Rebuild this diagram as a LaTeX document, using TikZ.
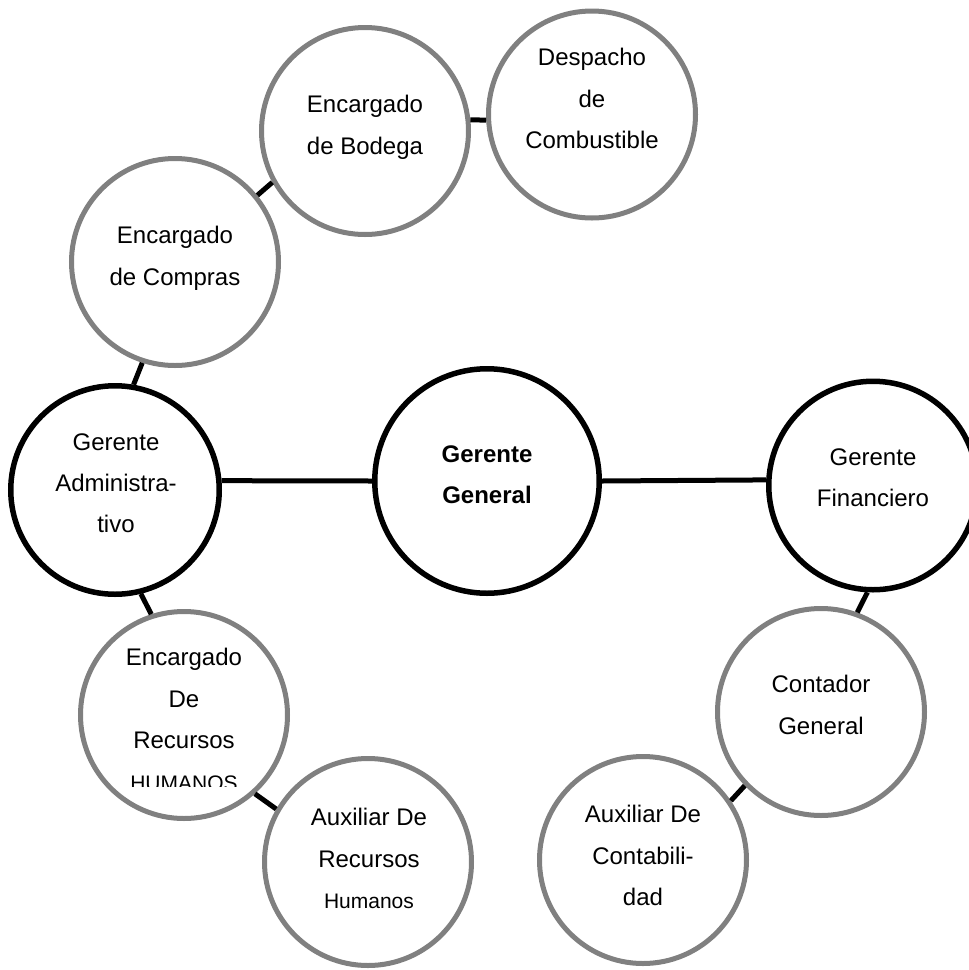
\documentclass[tikz,border=0pt]{standalone}
\usepackage{fontspec}
\setmainfont{Liberation Sans}
\definecolor{ringgray}{HTML}{808080}

\begin{document}
\begin{tikzpicture}[x=0.5pt, y=-0.5pt,
  mgr/.style={draw=black, line width=2.75pt, circle, minimum size=104.25pt, inner sep=0pt},
  chief/.style={mgr, minimum size=112.25pt},
  staff/.style={draw=ringgray, line width=2.5pt, circle, minimum size=103.5pt, inner sep=0pt},
  txt/.style={anchor=north, align=center, inner sep=0pt, font=\fontsize{12}{20.7}\selectfont},
  small/.style={font=\fontsize{10.5}{20.7}\selectfont},
  link/.style={line width=2.5pt}
]
\useasboundingbox (0,0) rectangle (969,970);

\node[chief] (gg) at (487,481) {};
\node[mgr] (admin) at (115,490) {};
\node[mgr] (fin) at (873,485.5) {};

\node[staff] (compras) at (175,262) {};
\node[staff] (bodega) at (365,131) {};
\node[staff] (despacho) at (592,114.5) {};
\node[staff] (hr) at (184,715) {};
\node[staff] (auxhr) at (368,862) {};
\node[staff] (cont) at (821,712) {};
\node[staff] (auxcont) at (643,860) {};

\node[txt, font=\fontsize{12}{20.7}\selectfont\bfseries] (gg-t) at (487,445) {Gerente\\General};
\node[txt] (admin-t) at (116,433) {Gerente\\Administra-\\tivo};
\node[txt] (fin-t) at (873,448) {Gerente\\Financiero};
\node[txt] (compras-t) at (175,226) {Encargado\\de Compras};
\node[txt] (bodega-t) at (365,95) {Encargado\\de Bodega};
\node[txt] (despacho-t) at (592,48) {Despacho\\de\\Combustible};
\begin{scope}
  \clip (0,0) rectangle (969,786.5);
  \node[txt] (hr-t) at (184,648) {Encargado\\De\\Recursos\\{\fontsize{10.5}{20.7}\selectfont HUMANOS}};
\end{scope}
\node[txt] (auxhr-t) at (369,808) {Auxiliar De\\Recursos\\{\fontsize{10.5}{20.7}\selectfont Humanos}};
\node[txt] (cont-t) at (821,675) {Contador\\General};
\node[txt] (auxcont-t) at (643,805) {Auxiliar De\\Contabili-\\dad};

\draw[link] (admin.5) -- (gg.west);
\draw[link] (gg.east) -- (fin.177);
\draw[link] (compras.252) -- (admin.80);
\draw[link] (compras.39) -- (bodega.209);
\draw[link] (bodega.6) -- (despacho.183);
\draw[link] (admin.284) -- (hr.108);
\draw[link] (hr.312) -- (auxhr.150);
\draw[link] (fin.267) -- (cont.70);
\draw[link] (cont.224) -- (auxcont.34);
\end{tikzpicture}
\end{document}
